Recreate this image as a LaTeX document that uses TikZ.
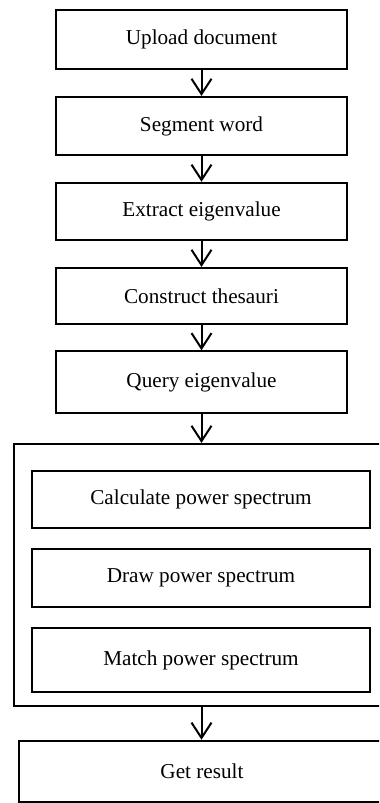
\documentclass[tikz,border=0pt]{standalone}
\usepackage{fontspec}
\setmainfont{Liberation Serif}
\usepackage{tikz}
\usetikzlibrary{arrows.meta,calc}

\begin{document}
\begin{tikzpicture}[x=0.75pt,y=-0.75pt,
    procbox/.style={draw,line width=1.6pt,inner sep=0pt,align=center,
      font=\fontsize{15.9}{19}\selectfont},
    flow/.style={line width=1.5pt,-{Straight Barb[length=11.5pt,width=15pt,line width=1.5pt]}}]
      \clip (0,0) rectangle (379,803);
      % main steps
      \node[procbox,minimum width=218pt,minimum height=44pt] (upl) at (201.5,39.5) {Upload document};
      \node[procbox,minimum width=218pt,minimum height=43.5pt] (seg) at (201.5,126) {Segment word};
      \node[procbox,minimum width=218pt,minimum height=43pt] (ext) at (201.5,211.5) {Extract eigenvalue};
      \node[procbox,minimum width=218pt,minimum height=42pt] (con) at (201.5,296) {Construct thesauri};
      \node[procbox,minimum width=218pt,minimum height=46pt] (qry) at (201.5,382) {Query eigenvalue};
      % power spectrum group
      \node[procbox,minimum width=282pt,minimum height=196.5pt] (grp) at (202,575) {};
      \node[procbox,minimum width=253.5pt,minimum height=43pt] (calc) at (201,499.5) {Calculate power spectrum};
      \node[procbox,minimum width=253.5pt,minimum height=43.5pt] (drw) at (201,578) {Draw power spectrum};
      \node[procbox,minimum width=253.5pt,minimum height=48pt] (mat) at (201,660) {Match power spectrum};
      \node[procbox,minimum width=274.5pt,minimum height=46pt] (res) at (202,771.5) {Get result};
      % arrows
      \draw[flow] (upl) -- (seg);
      \draw[flow] (seg) -- (ext);
      \draw[flow] (ext) -- (con);
      \draw[flow] (con) -- (qry);
      \draw[flow] (qry.south) -- (qry.south |- grp.north);
      \draw[flow] (qry.south |- grp.south) -- (qry.south |- res.north);
\end{tikzpicture}
\end{document}
